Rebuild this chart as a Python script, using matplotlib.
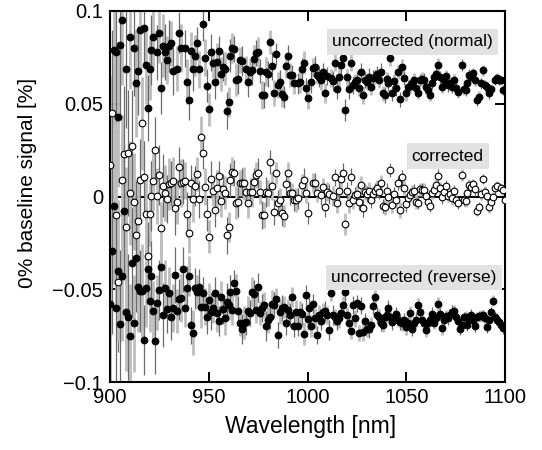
import numpy as np
import matplotlib
matplotlib.use("Agg")
import matplotlib.pyplot as plt
from matplotlib.ticker import FixedLocator, FixedFormatter

plt.rcParams['font.family'] = ['Liberation Sans', 'DejaVu Sans']

# ---------------- data ----------------
normal_wl = [902, 903, 904, 905, 906, 908, 910, 912, 913, 914, 915, 917, 918, 919, 920, 921, 922, 924, 925, 926,
             927, 928, 929, 930, 931, 932, 934, 935, 936, 938, 939, 940, 941, 942, 943, 944, 945, 947, 948, 949,
             950, 951, 952, 953, 954, 955, 956, 957, 958, 959, 960, 961, 962, 963, 964, 965, 966, 967, 969, 970,
             971, 972, 973, 974, 975, 976, 977, 978, 979, 980, 981, 982, 983, 984, 985, 986, 987, 988, 989, 990,
             991, 992, 993, 995, 996, 997, 998, 999, 1000,
             1002, 1003, 1004, 1005, 1006, 1007, 1008, 1009, 1010, 1012, 1013, 1014, 1015, 1016, 1017, 1018, 1019,
             1020, 1021, 1022, 1023, 1024, 1025, 1026, 1027, 1028, 1029, 1030, 1031, 1032, 1033, 1034, 1035, 1036,
             1037, 1038, 1039, 1040, 1041, 1042, 1043, 1044, 1045, 1046, 1047, 1048, 1049, 1050, 1051, 1052, 1053,
             1054, 1055, 1056, 1057, 1058, 1059, 1060, 1061, 1062, 1063, 1064, 1065, 1066, 1067, 1068, 1069, 1070,
             1071, 1072, 1073, 1074, 1075, 1076, 1078, 1079, 1080, 1081, 1082, 1083, 1084, 1085, 1086, 1087, 1088,
             1089, 1090, 1091, 1092, 1093, 1095, 1096, 1097, 1098, 1099, 1100]
normal_val = [0.079, 0.078, 0.043, 0.0817, 0.095, 0.069, 0.086, 0.080, 0.061, 0.0677, 0.0898, 0.0906, 0.0709, 0.0477,
              0.069, 0.079, 0.0858, 0.0777, 0.088, 0.0587, 0.0813, 0.078, 0.0736, 0.081, 0.0826, 0.0677, 0.069,
              0.0883, 0.080, 0.080, 0.0619, 0.052, 0.0786, 0.0687, 0.0759, 0.0826, 0.0687, 0.093, 0.0748, 0.0597,
              0.047, 0.0777, 0.0718, 0.0616, 0.0727, 0.0786, 0.066, 0.070, 0.069, 0.0463, 0.0511, 0.0759, 0.080,
              0.0793, 0.063, 0.0633, 0.0736, 0.073, 0.0687, 0.0619, 0.0673, 0.068, 0.074, 0.0772, 0.078, 0.0677,
              0.0547, 0.0547, 0.0673, 0.066, 0.0835, 0.0704, 0.056, 0.0767, 0.060, 0.0619, 0.055, 0.0538, 0.0704,
              0.0759, 0.0655, 0.0655, 0.061, 0.061, 0.0619, 0.069, 0.0721, 0.0583, 0.053,
              0.0619, 0.0694, 0.070, 0.0655, 0.0646, 0.0628, 0.0673, 0.056, 0.065, 0.0637, 0.0623, 0.0721, 0.0578,
              0.0646, 0.0709, 0.0745, 0.0466, 0.0643, 0.0578, 0.0721, 0.060, 0.0619, 0.0628, 0.0583, 0.0673, 0.0547,
              0.0628, 0.0619, 0.0646, 0.0589, 0.0637, 0.0646, 0.066, 0.0628, 0.0673, 0.0556, 0.0547, 0.0632, 0.0613,
              0.0745, 0.0556, 0.0623, 0.0583, 0.0673, 0.0524, 0.070, 0.0637, 0.0556, 0.0589, 0.0596, 0.0613, 0.0628,
              0.0583, 0.056, 0.0628, 0.0632, 0.0628, 0.0589, 0.0574, 0.0547, 0.0613, 0.0643, 0.066, 0.0709, 0.0643,
              0.0592, 0.0628, 0.065, 0.060, 0.0613, 0.0592, 0.0628, 0.0583, 0.0565, 0.0709, 0.0578, 0.0574, 0.0613,
              0.0655, 0.0646, 0.0664, 0.0628, 0.052, 0.0538, 0.061, 0.068, 0.060, 0.0589, 0.0556, 0.0578, 0.0628,
              0.0637, 0.0628, 0.0628, 0.0574, 0.0628]

corrected_wl = [900, 901, 903, 904, 906, 907, 908, 909, 910, 911, 912, 913, 914, 915, 916, 917, 918, 919, 920, 921,
                922, 923, 924, 925, 926, 927, 928, 929, 930, 931, 932, 933, 934, 935, 936, 937, 938, 939, 940, 941,
                942, 943, 944, 945, 946, 947, 948, 949, 950, 951, 952, 953, 954, 955, 956, 957, 958, 959, 960, 961,
                962, 963, 964, 965, 966, 967, 968, 969, 970, 971, 972, 973, 974, 975, 976, 977, 978, 979, 980, 981,
                982, 983, 984, 985, 986, 987, 988, 989, 990, 991, 992, 993, 994, 995, 997, 998, 999, 1000,
                1003, 1004, 1005, 1007, 1008, 1009, 1010, 1011, 1013, 1014, 1015, 1016, 1017, 1018, 1019, 1020, 1021,
                1022, 1023, 1024, 1025, 1026, 1027, 1028, 1029, 1030, 1031, 1032, 1033, 1034, 1035, 1036, 1037, 1038,
                1039, 1040, 1041, 1042, 1043, 1044, 1045, 1046, 1047, 1048, 1049, 1050, 1051, 1052, 1053, 1054, 1055,
                1056, 1057, 1058, 1059, 1060, 1061, 1062, 1063, 1064, 1065, 1066, 1067, 1068, 1069, 1070, 1071, 1072,
                1073, 1074, 1075, 1076, 1078, 1079, 1080, 1081, 1082, 1083, 1084, 1085, 1086, 1087, 1088, 1089, 1090,
                1091, 1092, 1093, 1094, 1095, 1096, 1098, 1099, 1100]
corrected_val = [0.017, 0.0448, -0.010, -0.046, 0.0089, 0.0227, -0.0163, 0.0233, 0.002, 0.0272, -0.0028, -0.0208,
                 -0.013, 0.0089, 0.0395, 0.0107, -0.0096, -0.0319, -0.0096, 0.0003, 0.0084, 0.025, 0.0003, 0.0116,
                 -0.0172, 0.0057, 0.002, -0.0015, 0.0066, 0.0071, 0.0085, -0.006, -0.0028, 0.0157, 0.0074, 0.008,
                 0.0085, -0.0096, -0.0195, 0.0071, -0.0015, 0.0057, 0.0121, -0.0015, 0.0322, 0.0236, 0.0053, -0.0096,
                 -0.0217, 0.0093, 0.003, -0.0073, 0.0044, 0.011, -0.0023, 0.0039, 0.002, -0.0208, -0.0163, 0.0089,
                 0.0134, 0.0128, -0.0033, -0.0028, 0.0071, 0.0074, 0.0071, 0.0026, -0.0037, 0.0026, 0.0026, 0.008,
                 0.0116, 0.0128, 0.0026, -0.010, -0.010, 0.0026, 0.002, 0.0188, 0.0057, -0.0082, 0.0125, -0.0037,
                 -0.0019, -0.009, -0.0105, 0.0067, 0.0125, 0.002, 0.002, -0.0019, -0.0019, -0.001, 0.0062, 0.0089,
                 0.002, -0.009,
                 0.0074, 0.0071, 0.002, 0.0008, 0.0053, -0.0058, 0.0026, 0.0013, 0.0003, 0.0103, -0.0037, 0.0031,
                 0.0093, 0.0128, -0.0148, 0.0031, -0.0037, 0.0107, -0.0019, 0.0008, 0.0013, -0.0028, 0.0062, -0.0064,
                 0.0026, 0.0013, 0.0031, -0.0019, 0.0013, 0.0031, 0.0044, 0.0026, 0.0071, -0.0051, -0.0058, 0.0031,
                 -0.0001, 0.0143, -0.0046, 0.0013, -0.0019, 0.0074, -0.0073, 0.0103, 0.0044, -0.0042, -0.001, 0.0008,
                 0.0026, 0.0031, -0.0028, -0.0033, 0.0039, 0.0035, 0.0035, 0.0003, -0.0028, -0.0051, 0.002, 0.0035,
                 0.0062, 0.011, 0.0044, -0.0005, 0.0026, 0.0057, 0.0003, 0.0013, -0.001, 0.0031, -0.0019, -0.0033,
                 0.0116, -0.0019, -0.0023, 0.002, 0.0062, 0.0053, 0.0067, 0.0039, -0.0076, -0.0058, 0.0013, 0.0093,
                 0.0026, 0.0003, -0.0058, -0.0028, -0.0005, 0.0044, 0.0057, 0.0044, 0.0035, -0.0019]

reverse_wl = [900, 901, 902, 903, 904, 905, 906, 907, 908, 909, 910, 911, 912, 913, 914, 915, 916, 917, 918, 919,
              920, 921, 922, 923, 924, 925, 926, 927, 928, 929, 930, 931, 932, 933, 934, 935, 936, 937, 938, 939,
              940, 941, 942, 943, 944, 945, 946, 947, 948, 949, 950, 951, 952, 953, 954, 955, 956, 957, 958, 959,
              960, 961, 962, 963, 964, 965, 966, 967, 968, 969, 970, 971, 972, 973, 974, 975, 976, 977, 978, 979,
              980, 981, 982, 983, 984, 985, 986, 987, 988, 989, 990, 991, 992, 993, 994, 995, 996, 997, 998, 999,
              1000, 1001, 1002, 1003, 1004, 1005, 1006, 1007, 1008, 1009, 1010, 1011, 1012, 1013, 1014, 1015, 1016,
              1017, 1018, 1019, 1020, 1021, 1022, 1023, 1024, 1025, 1026, 1027, 1028, 1029, 1030, 1031, 1032, 1033,
              1034, 1035, 1036, 1037, 1038, 1039, 1040, 1041, 1042, 1043, 1044, 1045, 1046, 1047, 1048, 1049, 1050,
              1051, 1052, 1053, 1054, 1055, 1056, 1057, 1058, 1059, 1060, 1061, 1062, 1063, 1064, 1065, 1066, 1067,
              1068, 1069, 1070, 1071, 1072, 1073, 1074, 1075, 1076, 1077, 1078, 1079, 1080, 1081, 1082, 1083, 1084,
              1085, 1086, 1087, 1088, 1089, 1090, 1091, 1092, 1093, 1094, 1095, 1096, 1097, 1098, 1099]
reverse_val = [-0.058, -0.0292, -0.005, -0.0603, -0.040, -0.0687, -0.0429, -0.008, -0.0621, -0.0651, -0.0752, -0.0357,
               -0.0684, -0.0333, -0.049, -0.0508, -0.0508, -0.0774, -0.0495, -0.0393, -0.0563, -0.0429, -0.0617,
               -0.0777, -0.0572, -0.0504, -0.0378, -0.0639, -0.0495, -0.0608, -0.0522, -0.0651, -0.0603, -0.0423,
               -0.0616, -0.0554, -0.0549, -0.0393, -0.0603, -0.0495, -0.0429, -0.0693, -0.0734, -0.0495, -0.0513,
               -0.049, -0.0597, -0.0522, -0.0594, -0.0651, -0.0558, -0.0621, -0.0603, -0.0522, -0.063, -0.067,
               -0.0543, -0.0608, -0.0657, -0.0567, -0.0585, -0.0513, -0.0612, -0.0468, -0.0508, -0.0616, -0.068,
               -0.0716, -0.068, -0.0675, -0.0616, -0.0626, -0.0513, -0.0526, -0.0612, -0.049, -0.0626, -0.0603,
               -0.0585, -0.0698, -0.0666, -0.0651, -0.058, -0.0585, -0.0554, -0.0747, -0.0621, -0.0603, -0.0594,
               -0.068, -0.0612, -0.0639, -0.0543, -0.0698, -0.0621, -0.0698, -0.0621, -0.0634, -0.0741, -0.0531,
               -0.0662, -0.0603, -0.0698, -0.058, -0.0657, -0.0747, -0.0639, -0.067, -0.0621, -0.0616, -0.0639,
               -0.072, -0.0518, -0.0639, -0.0651, -0.067, -0.0657, -0.0626, -0.0585, -0.0513, -0.0639, -0.0684,
               -0.0723, -0.0585, -0.0657, -0.0576, -0.0738, -0.0588, -0.0729, -0.067, -0.0716, -0.0716, -0.0693,
               -0.0588, -0.0543, -0.0639, -0.0648, -0.068, -0.0693, -0.0648, -0.0639, -0.0603, -0.0651, -0.0675,
               -0.0651, -0.0634, -0.0666, -0.0675, -0.0684, -0.0666, -0.0706, -0.0684, -0.063, -0.0716, -0.0684,
               -0.0666, -0.0585, -0.0621, -0.0666, -0.0684, -0.072, -0.068, -0.0666, -0.0634, -0.068, -0.0657,
               -0.058, -0.0634, -0.0711, -0.0666, -0.0644, -0.0657, -0.0639, -0.0621, -0.0616, -0.0648, -0.067,
               -0.0716, -0.0693, -0.0651, -0.0648, -0.0693, -0.0666, -0.0639, -0.0666, -0.0698, -0.0651, -0.0644,
               -0.0644, -0.0639, -0.0657, -0.0706, -0.0666, -0.0621, -0.0562, -0.0648, -0.0666, -0.0675, -0.0693,
               -0.0711]

# half-length of the error bars, one value per nm from 900 to 1100
error_wl = list(range(900, 1101))
error_half = [0.048, 0.045, 0.042, 0.050, 0.038, 0.040, 0.035, 0.037, 0.032, 0.034,
              0.028, 0.030, 0.026, 0.029, 0.024, 0.022, 0.025, 0.019, 0.021, 0.018,
              0.017, 0.019, 0.016, 0.018, 0.015, 0.016, 0.014, 0.017, 0.015, 0.013,
              0.014, 0.012, 0.013, 0.015, 0.012, 0.011, 0.013, 0.012, 0.010, 0.012,
              0.011, 0.010, 0.012, 0.011, 0.009, 0.010, 0.011, 0.009, 0.010, 0.009,
              0.009, 0.010, 0.008, 0.009, 0.010, 0.008, 0.009, 0.008, 0.009, 0.010,
              0.008, 0.009, 0.008, 0.007, 0.009, 0.008, 0.007, 0.008, 0.009, 0.007,
              0.008, 0.007, 0.008, 0.0075, 0.007, 0.008, 0.0065, 0.0075, 0.007, 0.008,
              0.007, 0.0065, 0.0075, 0.007, 0.006, 0.007, 0.0065, 0.007, 0.006, 0.0065,
              0.006, 0.0065, 0.0055, 0.006, 0.0065, 0.0055, 0.006, 0.0058, 0.0062, 0.0055,
              0.0058, 0.0055, 0.006, 0.0052, 0.0056, 0.005, 0.0055, 0.0052, 0.0048, 0.0054,
              0.005, 0.0054, 0.0048, 0.0052, 0.0047, 0.005, 0.0053, 0.0046, 0.005, 0.0058,
              0.0046, 0.005, 0.0045, 0.0048, 0.0044, 0.0047, 0.0043, 0.0046, 0.0048, 0.0044,
              0.0043, 0.0046, 0.0042, 0.0045, 0.0041, 0.0044, 0.0042, 0.0045, 0.004, 0.0043,
              0.0041, 0.0043, 0.004, 0.0042, 0.0039, 0.0041, 0.0038, 0.0042, 0.004, 0.0038,
              0.0039, 0.0037, 0.004, 0.0038, 0.0036, 0.0039, 0.0037, 0.0035, 0.0038, 0.0036,
              0.0035, 0.0037, 0.0034, 0.0036, 0.0035, 0.0033, 0.0036, 0.0034, 0.0033, 0.0035,
              0.0033, 0.0034, 0.0032, 0.0034, 0.0031, 0.0033, 0.0032, 0.0031, 0.0033, 0.003,
              0.0031, 0.0032, 0.003, 0.0031, 0.0029, 0.0031, 0.003, 0.0029, 0.003, 0.0028,
              0.003, 0.0028, 0.0029, 0.0027, 0.0029, 0.0028, 0.0027, 0.0029, 0.0026, 0.0028,
              0.0027]

labels = ["uncorrected (normal)", "corrected", "uncorrected (reverse)"]
label_pos = [(1053, 0.0833), (1071, 0.0218), (1054, -0.0437)]

x_ticks = [900, 950, 1000, 1050, 1100]
y_ticks = [-0.1, -0.05, 0, 0.05, 0.1]
y_ticklabels = ["\u22120.1", "\u22120.05", "0", "0.05", "0.1"]

# ---------------- plot ----------------
err_map = dict(zip(error_wl, error_half))

fig = plt.figure(figsize=(5.42, 4.5), dpi=100)
ax = fig.add_axes([110 / 542, 1 - 382 / 450, 395 / 542, 371 / 450])

ax.axhline(0, color='black', lw=1.5, zorder=1)

series = [(normal_wl, normal_val, 'black'),
          (corrected_wl, corrected_val, 'white'),
          (reverse_wl, reverse_val, 'black')]

for wl, val, face in series:
    wl = np.asarray(wl, float)
    val = np.asarray(val, float)
    err = np.array([err_map[int(round(w))] for w in wl])
    light = (np.arange(len(wl)) % 2) == 0
    ax.vlines(wl[light], val[light] - err[light], val[light] + err[light],
              color='#bdbdbd', lw=2.0, zorder=2)
    ax.vlines(wl[~light], val[~light] - err[~light], val[~light] + err[~light],
              color='#6a6a6a', lw=0.9, zorder=2)

for wl, val, face in series:
    ax.plot(wl, val, 'o', ms=4.8, mfc=face, mec='black', mew=0.8, ls='none', zorder=3)

for text, (lx, ly) in zip(labels, label_pos):
    ax.text(lx, ly, text, fontsize=12.4, ha='center', va='center', zorder=5,
            bbox=dict(boxstyle='square,pad=0.3', fc='#e2e2e2', ec='none'))

ax.set_xlim(900, 1100)
ax.set_ylim(-0.1, 0.1)
ax.xaxis.set_major_locator(FixedLocator(x_ticks))
ax.yaxis.set_major_locator(FixedLocator(y_ticks))
ax.yaxis.set_major_formatter(FixedFormatter(y_ticklabels))
ax.tick_params(direction='in', length=7, width=1.4, top=True, right=True,
               labelsize=14.5, pad=5)
ax.tick_params(axis='x', pad=4)
for s in ax.spines.values():
    s.set_linewidth(1.5)

fig.text(28 / 542, 1 - 183 / 450, "0% baseline signal [%]", rotation=90,
         ha='center', va='center', fontsize=15)
fig.text(311 / 542, 1 - 427 / 450, "Wavelength [nm]", ha='center', va='center', fontsize=16.5)

fig.savefig("out.png", dpi=100)
